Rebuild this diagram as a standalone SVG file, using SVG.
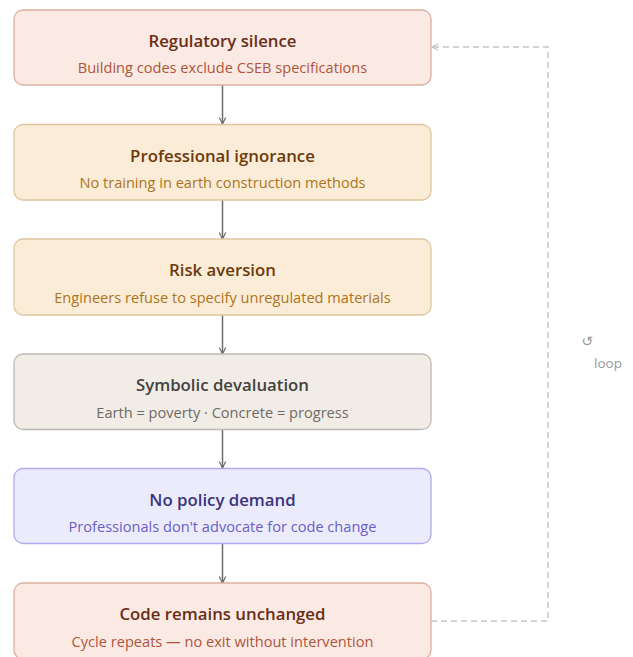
<svg xmlns="http://www.w3.org/2000/svg" width="633" height="657" viewBox="0 0 633 657">
<style>
.t{font-family:"Open Sans","Noto Sans","Liberation Sans",sans-serif;font-size:16.8px;font-weight:600;text-anchor:middle}
.s{font-family:"Open Sans","Noto Sans","Liberation Sans",sans-serif;font-size:14.6px;text-anchor:middle}
.red rect{fill:#fbeae4;stroke:#dcae9f}
.red .t{fill:#6a2d16}.red .s{fill:#b0543a}
.amb rect{fill:#fbecd7;stroke:#dec59f}
.amb .t{fill:#6b3a0c}.amb .s{fill:#ad7420}
.gry rect{fill:#f1ede6;stroke:#bdb9b0}
.gry .t{fill:#444240}.gry .s{fill:#6e6b66}
.pur rect{fill:#ecebfc;stroke:#b2aaea}
.pur .t{fill:#3a347e}.pur .s{fill:#6a5fc6}
rect{stroke-width:1.3}
.c{stroke:#6b6b6b;stroke-width:1.5;fill:none}
.d{stroke:#c4c4c4;stroke-width:1.5;fill:none;stroke-dasharray:6 4}
</style>
<defs>
<marker id="a" viewBox="0 0 10 10" refX="9" refY="5" markerWidth="8" markerHeight="8" orient="auto" markerUnits="userSpaceOnUse"><path d="M1,1 L9,5 L1,9" fill="none" stroke="#6b6b6b" stroke-width="1.5"/></marker>
<marker id="b" viewBox="0 0 10 10" refX="9" refY="5" markerWidth="8" markerHeight="8" orient="auto" markerUnits="userSpaceOnUse"><path d="M1,1 L9,5 L1,9" fill="none" stroke="#c4c4c4" stroke-width="1.5"/></marker>
</defs>
<g id="connectors">
<path class="c" d="M222.5,85 V124" marker-end="url(#a)"/>
<path class="c" d="M222.5,200 V239" marker-end="url(#a)"/>
<path class="c" d="M222.5,315 V354" marker-end="url(#a)"/>
<path class="c" d="M222.5,429 V468" marker-end="url(#a)"/>
<path class="c" d="M222.5,543 V583" marker-end="url(#a)"/>
<path class="d" d="M431,621 H548 V47 H432" marker-end="url(#b)"/>
<text x="587" y="346" font-family="DejaVu Sans,sans-serif" font-size="14" fill="#999" text-anchor="middle">↺</text>
<text x="608" y="368" font-family="Open Sans,Noto Sans,sans-serif" font-size="13.5" fill="#999" text-anchor="middle">loop</text>
</g>
<g id="n1" class="red"><rect x="14" y="10" width="417" height="75" rx="9"/><text class="t" x="222.5" y="47">Regulatory silence</text><text class="s" x="222.5" y="73">Building codes exclude CSEB specifications</text></g>
<g id="n2" class="amb"><rect x="14" y="124.5" width="417" height="75.5" rx="9"/><text class="t" x="222.5" y="161.5">Professional ignorance</text><text class="s" x="222.5" y="188">No training in earth construction methods</text></g>
<g id="n3" class="amb"><rect x="14" y="239" width="417" height="76" rx="9"/><text class="t" x="222.5" y="276">Risk aversion</text><text class="s" x="222.5" y="303">Engineers refuse to specify unregulated materials</text></g>
<g id="n4" class="gry"><rect x="14" y="354" width="417" height="75.5" rx="9"/><text class="t" x="222.5" y="391">Symbolic devaluation</text><text class="s" x="222.5" y="418">Earth = poverty · Concrete = progress</text></g>
<g id="n5" class="pur"><rect x="14" y="468.5" width="417" height="75" rx="9"/><text class="t" x="222.5" y="505.5">No policy demand</text><text class="s" x="222.5" y="532">Professionals don't advocate for code change</text></g>
<g id="n6" class="red"><rect x="14" y="583" width="417" height="76" rx="9"/><text class="t" x="222.5" y="620">Code remains unchanged</text><text class="s" x="222.5" y="647">Cycle repeats — no exit without intervention</text></g>
</svg>
